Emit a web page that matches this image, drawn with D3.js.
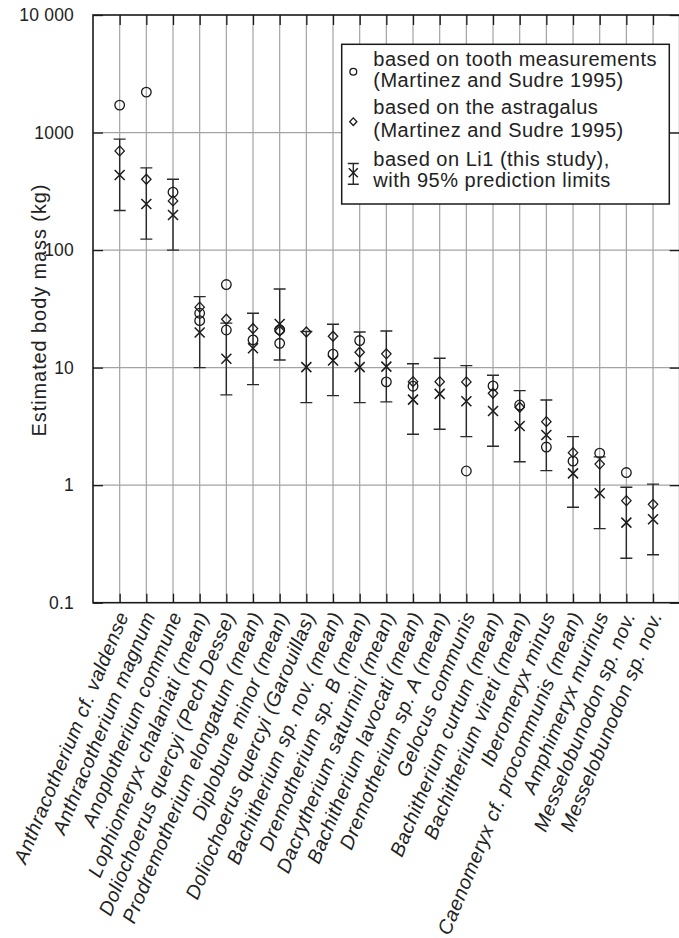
<!DOCTYPE html>
<html>
<head>
<meta charset="utf-8">
<script src="https://cdn.jsdelivr.net/npm/d3@7"></script>
<style>
  html, body { margin: 0; padding: 0; background: #fff; }
  svg { display: block; font-family: "Liberation Sans", Arial, Helvetica, sans-serif; }
</style>
</head>
<body>
<script>
const categories = [
  "Anthracotherium cf. valdense",
  "Anthracotherium magnum",
  "Anoplotherium commune",
  "Lophiomeryx chalaniati (mean)",
  "Doliochoerus quercyi (Pech Desse)",
  "Prodremotherium elongatum (mean)",
  "Diplobune minor (mean)",
  "Doliochoerus quercyi (Garouillas)",
  "Bachitherium sp. nov. (mean)",
  "Dremotherium sp. B (mean)",
  "Dacrytherium saturnini (mean)",
  "Bachitherium lavocati (mean)",
  "Dremotherium sp. A (mean)",
  "Gelocus communis",
  "Bachitherium curtum (mean)",
  "Bachitherium vireti (mean)",
  "Iberomeryx minus",
  "Caenomeryx cf. procommunis (mean)",
  "Amphimeryx murinus",
  "Messelobunodon sp. nov.",
  "Messelobunodon sp. nov."
];
// based on tooth measurements (may hold several estimates per taxon)
const toothMass = [
  [1711], [2208], [311], [29.0, 25.1], [50.9, 20.9], [17.2], [21.0, 16.1], [],
  [13.0], [17.0], [7.56], [6.95], [], [1.32], [6.99], [4.81], [2.11], [1.60],
  [1.87], [1.28], []
];
// based on the astragalus
const astragalusMass = [698, 401, 262, 32.7, 25.8, 21.5, 20.5, 20.1, 18.5, 13.5,
  13.1, 7.6, 7.6, 7.56, 6.05, 4.6, 3.47, 1.89, 1.51, 0.738, 0.687];
// based on Li1 with 95% prediction limits
const li1Mass = [436, 247, 199, 19.9, 11.9, 14.6, 23.5, 10.1, 11.5, 10.1, 10.2,
  5.34, 5.98, 5.18, 4.28, 3.19, 2.67, 1.26, 0.853, 0.48, 0.513];
const li1Lower = [217, 124, 100, 10.0, 5.86, 7.17, 11.6, 5.04, 5.78, 5.04, 5.11,
  2.71, 2.99, 2.59, 2.14, 1.58, 1.33, 0.649, 0.427, 0.239, 0.256];
const li1Upper = [879, 500, 401, 40.2, 23.9, 29.0, 46.7, 20.3, 23.4, 20.1, 20.5,
  10.8, 12.0, 10.4, 8.62, 6.37, 5.31, 2.59, 1.74, 0.96, 1.02];
const yTickValues = [0.1, 1, 10, 100, 1000, 10000];
const yTickLabels = ["0.1", "1", "10", "100", "1000", "10 000"];
const legendLines = [
  ["based on tooth measurements", "(Martinez and Sudre 1995)"],
  ["based on the astragalus", "(Martinez and Sudre 1995)"],
  ["based on Li1 (this study),", "with 95% prediction limits"]
];
const yLabel = "Estimated body mass (kg)";

(function () {
const W = 679, H = 938;
const pL = 93, pR = 679.7, pT = 15, pB = 602.7;

const svg = d3.select("body").append("svg").attr("width", W).attr("height", H);

const idx = categories.map((d, i) => i);
const x = d3.scalePoint().domain(idx).range([pL, pR]).padding(1);
const y = d3.scaleLog().domain([0.1, 10000]).range([pB, pT]);

const gridColor = "#a3a3a3";
const ink = "#1a1a1a";

// grid
const grid = svg.append("g");
grid.selectAll("line.v").data(idx).join("line")
  .attr("x1", d => x(d)).attr("x2", d => x(d))
  .attr("y1", pT).attr("y2", pB)
  .attr("stroke", gridColor).attr("stroke-width", 1.2);
grid.selectAll("line.h").data(yTickValues.slice(1, -1)).join("line")
  .attr("x1", pL).attr("x2", pR)
  .attr("y1", d => y(d)).attr("y2", d => y(d))
  .attr("stroke", gridColor).attr("stroke-width", 1.2);

// axes (ticks inward)
const yAxisL = d3.axisLeft(y).tickValues(yTickValues).tickSizeInner(-10).tickSizeOuter(0)
  .tickPadding(19).tickFormat((d, i) => yTickLabels[i]);
const gyl = svg.append("g").attr("transform", `translate(${pL},0)`).call(yAxisL);
gyl.select(".domain").remove();
gyl.selectAll(".tick line").attr("stroke", ink).attr("stroke-width", 1.3);
gyl.selectAll(".tick text").attr("font-size", 17.5).attr("fill", "#222")
  .attr("font-family", "Liberation Sans, Arial, sans-serif").attr("letter-spacing", 0.2);

const yAxisR = d3.axisRight(y).tickValues(yTickValues).tickSizeInner(-10).tickSizeOuter(0).tickFormat("");
const gyr = svg.append("g").attr("transform", `translate(${pR},0)`).call(yAxisR);
gyr.select(".domain").remove();
gyr.selectAll(".tick line").attr("stroke", ink).attr("stroke-width", 1.3);

const xAxisB = d3.axisBottom(x).tickSizeInner(-9).tickSizeOuter(0).tickFormat("");
const gxb = svg.append("g").attr("transform", `translate(0,${pB})`).call(xAxisB);
gxb.select(".domain").remove();
gxb.selectAll(".tick line").attr("stroke", ink).attr("stroke-width", 1.3);

const xAxisT = d3.axisTop(x).tickSizeInner(-10).tickSizeOuter(0).tickFormat("");
const gxt = svg.append("g").attr("transform", `translate(0,${pT})`).call(xAxisT);
gxt.select(".domain").remove();
gxt.selectAll(".tick line").attr("stroke", ink).attr("stroke-width", 1.3);

// frame
svg.append("rect").attr("x", pL).attr("y", pT)
  .attr("width", pR - pL).attr("height", pB - pT)
  .attr("fill", "none").attr("stroke", ink).attr("stroke-width", 1.6);

// x category labels
svg.append("g").selectAll("text").data(idx).join("text")
  .attr("transform", d => `translate(${x(d) + 3},${pB + 10}) rotate(-67.5)`)
  .attr("text-anchor", "end").attr("dy", "0.35em")
  .attr("font-size", 19.8).attr("font-style", "italic").attr("letter-spacing", 0.5)
  .attr("fill", "#222")
  .text(d => categories[d]);

// y label
svg.append("text")
  .attr("transform", `translate(46,${(183 + 437) / 2}) rotate(-90)`)
  .attr("text-anchor", "middle").attr("font-size", 20).attr("letter-spacing", 0.9)
  .attr("fill", "#222").text(yLabel);

// symbols
const plot = svg.append("g");
const sw = 1.3;
function circleSym(g, cx, cy, r) {
  g.append("circle").attr("cx", cx).attr("cy", cy).attr("r", r)
    .attr("fill", "none").attr("stroke", ink).attr("stroke-width", sw);
}
function diamondSym(g, cx, cy, w, h) {
  g.append("path").attr("d", `M${cx},${cy - h}L${cx + w},${cy}L${cx},${cy + h}L${cx - w},${cy}Z`)
    .attr("fill", "none").attr("stroke", ink).attr("stroke-width", sw);
}
function crossSym(g, cx, cy, s) {
  g.append("path").attr("d", `M${cx - s},${cy - s}L${cx + s},${cy + s}M${cx - s},${cy + s}L${cx + s},${cy - s}`)
    .attr("fill", "none").attr("stroke", ink).attr("stroke-width", 1.5);
}
function errBar(g, cx, y1, y2, cw) {
  g.append("path").attr("d", `M${cx},${y1}L${cx},${y2}M${cx - cw},${y1}L${cx + cw},${y1}M${cx - cw},${y2}L${cx + cw},${y2}`)
    .attr("fill", "none").attr("stroke", "#2a2a2a").attr("stroke-width", 1.4);
}

idx.forEach(i => {
  errBar(plot, x(i), y(li1Upper[i]), y(li1Lower[i]), 6);
});
idx.forEach(i => {
  toothMass[i].forEach(v => circleSym(plot, x(i), y(v), 4.8));
  diamondSym(plot, x(i), y(astragalusMass[i]), 4.7, 5);
  crossSym(plot, x(i), y(li1Mass[i]), 5);
});

// legend
const lg = svg.append("g");
const lx = 341.7, ly = 44.3, lw = 327.6, lh = 159.7;
lg.append("rect").attr("x", lx).attr("y", ly).attr("width", lw).attr("height", lh)
  .attr("fill", "#fff").attr("stroke", ink).attr("stroke-width", 1.5);
const baselines = [[65.7, 87.3], [114, 136.5], [165.7, 187]];
legendLines.forEach((pair, k) => {
  pair.forEach((t, j) => {
    lg.append("text").attr("x", 373.3).attr("y", baselines[k][j])
      .attr("font-size", 20).attr("letter-spacing", 0.5).attr("fill", "#222").text(t);
  });
});
circleSym(lg, 353.3, 71.7, 3.4);
diamondSym(lg, 353.3, 121.7, 3.6, 3.8);
errBar(lg, 353.3, 163.5, 184.3, 5.5);
crossSym(lg, 353.3, 172.7, 4.5);
})();
</script>
</body>
</html>
